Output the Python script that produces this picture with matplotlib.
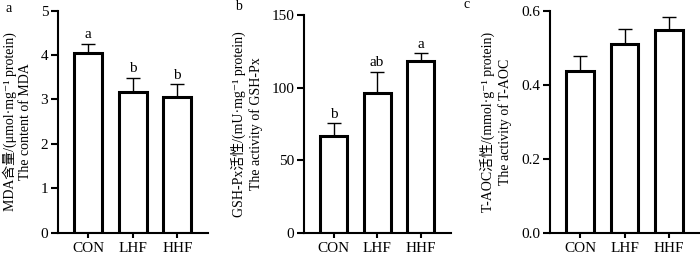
import matplotlib
matplotlib.use("Agg")
import matplotlib.pyplot as plt
import numpy as np

plt.rcParams['font.family'] = ['Liberation Serif', 'DejaVu Serif', 'Noto Sans CJK SC']
plt.rcParams['axes.unicode_minus'] = False

groups = ['CON', 'LHF', 'HHF']

mda = [4.04, 3.16, 3.05]
mda_err = [0.21, 0.32, 0.29]
mda_letters = ['a', 'b', 'b']

gsh = [66.5, 96.0, 118.4]
gsh_err = [8.8, 15.0, 5.1]
gsh_letters = ['b', 'ab', 'a']

taoc = [0.438, 0.51, 0.547]
taoc_err = [0.04, 0.04, 0.036]
taoc_letters = ['', '', '']

panels = [
    dict(vals=mda, err=mda_err, letters=mda_letters, ylim=(0, 5), yticks=[0, 1, 2, 3, 4, 5],
         ylabel="MDA含量/(μmol·mg⁻¹ protein)\nThe content of MDA", fmt='{:g}',
         rect=[58/700, 1-232.5/257, 150/700, 221.8/257], tag='a', tagpos=(6, 8),
         labx=-0.17),
    dict(vals=gsh, err=gsh_err, letters=gsh_letters, ylim=(0, 150), yticks=[0, 50, 100, 150],
         ylabel="GSH-Px活性/(mU·mg⁻¹ protein)\nThe activity of GSH-Px", fmt='{:g}',
         rect=[304/700, 1-232.6/257, 146.7/700, 217.6/257], tag='b', tagpos=(235, 7),
         labx=-0.28),
    dict(vals=taoc, err=taoc_err, letters=taoc_letters, ylim=(0, 0.6), yticks=[0, 0.2, 0.4, 0.6],
         ylabel="T-AOC活性/(mmol·g⁻¹ protein)\nThe activity of T-AOC", fmt='{:.1f}',
         rect=[550/700, 1-233/257, 149.5/700, 222.3/257], tag='c', tagpos=(464, 5),
         labx=-0.255),
]

fig = plt.figure(figsize=(7.0, 2.57), dpi=100)

for p in panels:
    ax = fig.add_axes(p['rect'])
    x = np.arange(len(groups))
    ax.errorbar(x, p['vals'], yerr=[np.zeros(len(x)), p['err']], fmt='none',
                ecolor='black', elinewidth=1.0, capsize=5, capthick=1.0, zorder=1)
    ax.bar(x, p['vals'], width=0.62, color='white', edgecolor='black', linewidth=2.2, zorder=2)
    for i, (v, e, l) in enumerate(zip(p['vals'], p['err'], p['letters'])):
        if l:
            ax.annotate(l, xy=(i, v + e), xytext=(0, 2.0), textcoords='offset points',
                        ha='center', va='bottom', fontsize=11)
    ax.set_xlim(-0.68, 2.69)
    ax.set_ylim(*p['ylim'])
    ax.set_yticks(p['yticks'])
    ax.set_yticklabels([p['fmt'].format(t) for t in p['yticks']], fontsize=11)
    ax.set_xticks(x)
    ax.set_xticklabels(groups, fontsize=11)
    for s in ['top', 'right']:
        ax.spines[s].set_visible(False)
    for s in ['left', 'bottom']:
        ax.spines[s].set_linewidth(1.5)
    ax.tick_params(axis='y', direction='out', length=5, width=1.5, pad=2)
    ax.tick_params(axis='x', direction='out', length=3.5, width=1.5, pad=3)
    ax.set_ylabel(p['ylabel'], fontsize=10, linespacing=1.25)
    ax.yaxis.set_label_coords(p['labx'], 0.5)
    fig.text(p['tagpos'][0]/700, 1 - p['tagpos'][1]/257, p['tag'], fontsize=10,
             ha='left', va='center')

fig.savefig('out.png', dpi=100)
